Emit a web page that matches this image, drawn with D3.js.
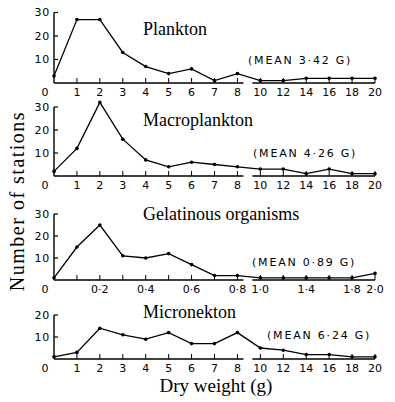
<!DOCTYPE html>
<html>
<head>
<meta charset="utf-8">
<script src="https://cdn.jsdelivr.net/npm/d3@7"></script>
<style>
  html, body { margin: 0; padding: 0; background: #fff; }
  svg { display: block; }
</style>
</head>
<body>
<svg id="chart" width="395" height="402"></svg>
<script>
// ---- data ----
const weightLabels = ["0","1","2","3","4","5","6","7","8","10","12","14","16","18","20"];
const gelatinousLabels = ["0","","0·2","","0·4","","0·6","","0·8","1·0","","1·4","","1·8","2·0"];
const plankton      = [3, 27, 27, 13, 7, 4, 6, 1, 4, 1, 1, 2, 2, 2, 2];
const macroplankton = [2, 12, 32, 16, 7, 4, 6, 5, 4, 3, 3, 1, 3, 1, 1];
const gelatinous    = [1, 15, 25, 11, 10, 12, 7, 2, 2, 1, 1, 1, 1, 1, 3];
const micronekton   = [1, 3, 14, 11, 9, 12, 7, 7, 12, 5, 4, 2, 2, 1, 1];
const panelTitles = ["Plankton", "Macroplankton", "Gelatinous organisms", "Micronekton"];
const meanLabels  = ["(MEAN 3·42 G)", "(MEAN 4·26 G)", "(MEAN 0·89 G)", "(MEAN 6·24 G)"];
const yTicks = [[10, 20, 30], [10, 20, 30], [10, 20, 30], [10, 20]];
const yMax = [30, 30, 30, 20];

const svg = d3.select("#chart");
const x = d3.scaleLinear().domain([0, 14]).range([54, 375]);

const panels = [
  { values: plankton,      labels: weightLabels,     base: 83,  k: 2.35, titleY: 35,  meanX: 248, meanY: 64 },
  { values: macroplankton, labels: weightLabels,     base: 176, k: 2.3,  titleY: 126, meanX: 253, meanY: 157 },
  { values: gelatinous,    labels: gelatinousLabels, base: 280, k: 2.2,  titleY: 220, meanX: 252, meanY: 266 },
  { values: micronekton,   labels: weightLabels,     base: 359, k: 2.2,  titleY: 318, meanX: 267, meanY: 339 }
];

panels.forEach((p, pi) => {
  const y = d3.scaleLinear().domain([0, 30]).range([p.base, p.base - 30 * p.k]);
  const g = svg.append("g");

  // y axis
  g.append("line").attr("x1", x(0)).attr("x2", x(0))
    .attr("y1", y(0)).attr("y2", y(yMax[pi]))
    .attr("stroke", "#000").attr("stroke-width", 1.4);
  yTicks[pi].forEach(t => {
    g.append("line").attr("x1", x(0)).attr("x2", x(0) + 4)
      .attr("y1", y(t)).attr("y2", y(t))
      .attr("stroke", "#000").attr("stroke-width", 1.2);
    g.append("text").attr("x", 50).attr("y", y(t)).attr("dy", "0.36em")
      .attr("text-anchor", "end")
      .attr("font-family", "DejaVu Sans").attr("font-size", 11)
      .attr("letter-spacing", 0.8)
      .text(t);
  });

  // x axis (broken between 8 and 10)
  g.append("line").attr("x1", x(0)).attr("x2", x(8) + 6)
    .attr("y1", y(0)).attr("y2", y(0))
    .attr("stroke", "#000").attr("stroke-width", 1.3);
  g.append("line").attr("x1", x(9) - 8).attr("x2", x(14))
    .attr("y1", y(0)).attr("y2", y(0))
    .attr("stroke", "#000").attr("stroke-width", 1.3);
  d3.range(1, 15).forEach(i => {
    g.append("line").attr("x1", x(i)).attr("x2", x(i))
      .attr("y1", y(0)).attr("y2", y(0) - 5)
      .attr("stroke", "#000").attr("stroke-width", 1);
  });
  p.labels.forEach((lab, i) => {
    if (!lab) return;
    g.append("text").attr("x", i === 0 ? x(0) - 9 : x(i)).attr("y", y(0) + 13)
      .attr("text-anchor", "middle")
      .attr("font-family", "DejaVu Sans").attr("font-size", 11)
      .text(lab);
  });

  // line + dots
  const line = d3.line().x((d, i) => x(i)).y(d => y(d));
  g.append("path").datum(p.values).attr("d", line)
    .attr("fill", "none").attr("stroke", "#000").attr("stroke-width", 1.3);
  g.selectAll("circle").data(p.values).join("circle")
    .attr("cx", (d, i) => x(i)).attr("cy", d => y(d)).attr("r", 1.8).attr("fill", "#000");

  // title and mean label
  g.append("text").attr("x", 143).attr("y", p.titleY)
    .attr("font-family", "Liberation Serif").attr("font-size", 18)
    .text(panelTitles[pi]);
  g.append("text").attr("x", p.meanX).attr("y", p.meanY)
    .attr("font-family", "DejaVu Sans").attr("font-size", 11)
    .attr("letter-spacing", 1.8)
    .text(meanLabels[pi]);
});

// axis titles
svg.append("text").attr("x", 216).attr("y", 392).attr("text-anchor", "middle")
  .attr("font-family", "Liberation Serif").attr("font-size", 19)
  .text("Dry weight (g)");
svg.append("text").attr("transform", "translate(24,201) rotate(-90)")
  .attr("text-anchor", "middle")
  .attr("font-family", "Liberation Serif").attr("font-size", 20)
  .attr("letter-spacing", 1.5)
  .text("Number of stations");
</script>
</body>
</html>
